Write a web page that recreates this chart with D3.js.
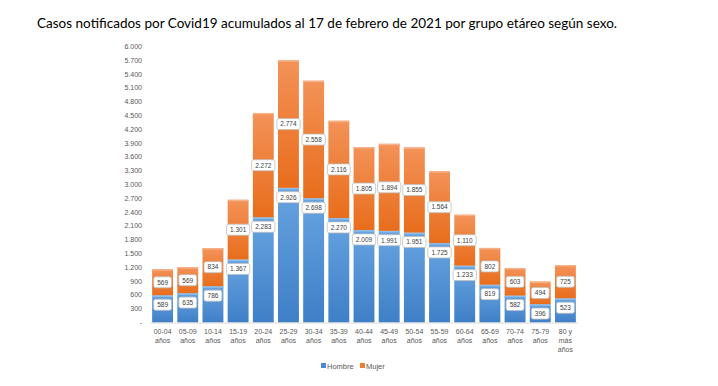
<!DOCTYPE html>
<html>
<head>
<meta charset="utf-8">
<script src="https://cdn.jsdelivr.net/npm/d3@7"></script>
<style>
  body { margin: 0; background: #fff; }
  svg { display: block; }
</style>
</head>
<body>
<script>
const grupos = ["00-04 años", "05-09 años", "10-14 años", "15-19 años", "20-24 años", "25-29 años",
  "30-34 años", "35-39 años", "40-44 años", "45-49 años", "50-54 años", "55-59 años",
  "60-64 años", "65-69 años", "70-74 años", "75-79 años", "80 y más años"];
const hombre = [589, 635, 786, 1367, 2283, 2926, 2698, 2270, 2009, 1991, 1951, 1725, 1233, 819, 582, 396, 523];
const mujer = [569, 569, 834, 1301, 2272, 2774, 2558, 2116, 1805, 1894, 1855, 1564, 1110, 802, 603, 494, 725];
const yTicks = d3.range(0, 6001, 300);
const titulo = "Casos notificados por Covid19 acumulados al 17 de febrero de 2021 por grupo etáreo según sexo.";

const w = 718;
const h = 386;

const locale = d3.formatLocale({ decimal: ",", thousands: ".", grouping: [3], currency: ["", ""] });
const fmt = locale.format(",");

const svg = d3.select("body")
    .append("svg")
    .attr("width", w)
    .attr("height", h);

// gradients
const defs = svg.append("defs");
const grad = (id, top, bottom) => {
    const g = defs.append("linearGradient").attr("id", id)
        .attr("x1", 0).attr("y1", 0).attr("x2", 0).attr("y2", 1);
    g.append("stop").attr("offset", "0%").attr("stop-color", top);
    g.append("stop").attr("offset", "100%").attr("stop-color", bottom);
};
grad("gH", "#66a3e0", "#3f7fc6");
grad("gM", "#f39258", "#e86d1c");

svg.append("text")
    .attr("x", 37).attr("y", 28)
    .attr("font-family", "Lato, sans-serif")
    .attr("font-size", 13.5)
    .attr("fill", "#000")
    .attr("textLength", 580)
    .attr("lengthAdjust", "spacingAndGlyphs")
    .text(titulo);

const xScale = d3.scaleBand().domain(grupos).range([150, 578]).paddingInner(0.17).paddingOuter(0.085);
const yScale = d3.scaleLinear().domain([0, 6000]).range([322.5, 46.5]);

// y axis labels
svg.append("g").selectAll("text")
    .data(yTicks)
    .enter().append("text")
    .attr("x", 142)
    .attr("y", d => yScale(d) + 2.5)
    .attr("text-anchor", "end")
    .attr("font-family", "Liberation Sans, sans-serif")
    .attr("font-size", 7)
    .attr("fill", "#595959")
    .text(d => d === 0 ? "-" : fmt(d));

const data = grupos.map((g, i) => ({ g, h: hombre[i], m: mujer[i] }));

// bars
const bars = svg.append("g");
bars.selectAll(".h").data(data).enter().append("rect")
    .attr("x", d => xScale(d.g))
    .attr("width", xScale.bandwidth())
    .attr("y", d => yScale(d.h))
    .attr("height", d => yScale(0) - yScale(d.h))
    .attr("fill", "url(#gH)");
bars.selectAll(".m").data(data).enter().append("rect")
    .attr("x", d => xScale(d.g))
    .attr("width", xScale.bandwidth())
    .attr("y", d => yScale(d.h + d.m))
    .attr("height", d => yScale(d.h) - yScale(d.h + d.m))
    .attr("fill", "url(#gM)");
// light top edge on each segment
bars.selectAll(".eh").data(data).enter().append("rect")
    .attr("x", d => xScale(d.g)).attr("width", xScale.bandwidth())
    .attr("y", d => yScale(d.h)).attr("height", 1.5)
    .attr("fill", "#8fbde9");
bars.selectAll(".em").data(data).enter().append("rect")
    .attr("x", d => xScale(d.g)).attr("width", xScale.bandwidth())
    .attr("y", d => yScale(d.h + d.m)).attr("height", 1.5)
    .attr("fill", "#f6b088");

// baseline
svg.append("line")
    .attr("x1", 150).attr("x2", 578)
    .attr("y1", yScale(0) + 0.5).attr("y2", yScale(0) + 0.5)
    .attr("stroke", "#d9d9d9");

// data labels
const labels = [];
data.forEach(d => {
    labels.push({ g: d.g, v: d.h, y: yScale(d.h) + 9.3 });
    labels.push({ g: d.g, v: d.m, y: (yScale(d.h) + yScale(d.h + d.m)) / 2 });
});
const lab = svg.append("g").selectAll("g").data(labels).enter().append("g")
    .attr("transform", d => `translate(${xScale(d.g) + xScale.bandwidth() / 2},${d.y})`);
const labRect = lab.append("rect")
    .attr("y", -5.5).attr("height", 11)
    .attr("rx", 2)
    .attr("fill", "#fff")
    .attr("stroke", "#bfbfbf")
    .attr("stroke-width", 0.8);
const labText = lab.append("text")
    .attr("y", 2.3)
    .attr("text-anchor", "middle")
    .attr("font-family", "Liberation Sans, sans-serif")
    .attr("font-size", 6.5)
    .attr("fill", "#404040")
    .text(d => fmt(d.v));
labText.each(function () {
    const tw = this.getComputedTextLength() + 7;
    d3.select(this.parentNode).select("rect").attr("x", -tw / 2).attr("width", tw);
});

// x labels
const xl = svg.append("g").selectAll("text").data(grupos).enter().append("text")
    .attr("text-anchor", "middle")
    .attr("font-family", "Liberation Sans, sans-serif")
    .attr("font-size", 7)
    .attr("fill", "#595959");
xl.each(function (g) {
    const parts = g === "80 y más años" ? ["80 y", "más", "años"] : g.split(" ");
    const t = d3.select(this);
    parts.forEach((p, i) => {
        t.append("tspan")
            .attr("x", xScale(g) + xScale.bandwidth() / 2)
            .attr("y", 334 + i * 9)
            .text(p);
    });
});

// legend
const legend = svg.append("g").attr("font-family", "Liberation Sans, sans-serif")
    .attr("font-size", 7.5).attr("fill", "#595959");
legend.append("rect").attr("x", 321).attr("y", 363).attr("width", 5).attr("height", 5).attr("fill", "#4a8ad2");
legend.append("text").attr("x", 327).attr("y", 368.5).text("Hombre");
legend.append("rect").attr("x", 360).attr("y", 363).attr("width", 5).attr("height", 5).attr("fill", "#ed7d31");
legend.append("text").attr("x", 366).attr("y", 368.5).text("Mujer");
</script>
</body>
</html>
